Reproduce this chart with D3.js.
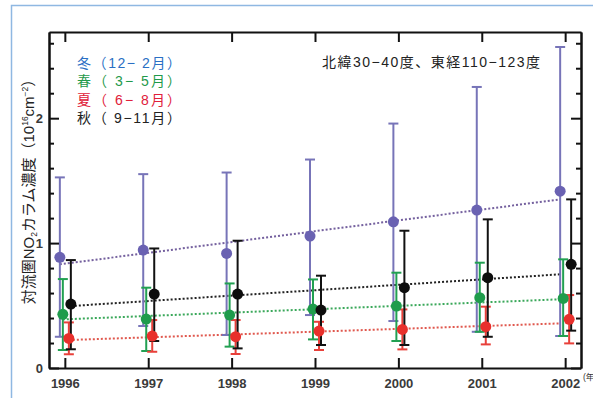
<!DOCTYPE html>
<html>
<head>
<meta charset="utf-8">
<script src="https://cdn.jsdelivr.net/npm/d3@7"></script>
<style>
  body { margin: 0; background: #fff; }
  svg { display: block; font-family: "Liberation Sans", "Noto Sans CJK JP", sans-serif; }
  .axis path { stroke: #111; stroke-width: 2; }
  .axis line { stroke: #111; stroke-width: 2; }
  .axis text { font-size: 13px; font-weight: bold; fill: #3a3a3a; font-family: "Liberation Sans", sans-serif; }
</style>
</head>
<body>
<div id="vis"></div>
<script>
const FRAME_WIDTH = 593;
const FRAME_HEIGHT = 398;
const MARGINS = {left: 49, right: 12, top: 32, bottom: 30};

// data (10^16 cm^-2)
const YEARS = [1996, 1997, 1998, 1999, 2000, 2001, 2002];
const WINTER_MEAN = [0.886, 0.944, 0.917, 1.056, 1.17, 1.264, 1.416];
const WINTER_HIGH = [1.526, 1.552, 1.565, 1.669, 1.957, 2.25, 2.57];
const WINTER_LOW  = [0.25, 0.336, 0.264, 0.424, 0.376, 0.29, 0.256];
const SPRING_MEAN = [0.43, 0.392, 0.424, 0.472, 0.496, 0.563, 0.557];
const SPRING_HIGH = [0.712, 0.643, 0.677, 0.709, 0.763, 0.843, 0.87];
const SPRING_LOW  = [0.144, 0.136, 0.171, 0.229, 0.216, 0.29, 0.256];
const SUMMER_MEAN = [0.237, 0.256, 0.251, 0.296, 0.309, 0.331, 0.39];
const SUMMER_HIGH = [0.365, 0.384, 0.384, 0.37, 0.469, 0.491, 0.584];
const SUMMER_LOW  = [0.11, 0.13, 0.112, 0.144, 0.149, 0.189, 0.197];
const AUTUMN_MEAN = [0.512, 0.592, 0.592, 0.464, 0.643, 0.723, 0.83];
const AUTUMN_HIGH = [0.864, 0.957, 1.019, 0.739, 1.099, 1.19, 1.35];
const AUTUMN_LOW  = [0.15, 0.216, 0.157, 0.184, 0.184, 0.25, 0.299];

const TREND_YEARS = [1996, 2002];
const WINTER_TREND = [0.83, 1.35];
const SPRING_TREND = [0.389, 0.55];
const SUMMER_TREND = [0.224, 0.357];
const AUTUMN_TREND = [0.496, 0.75];

const Y_MAJOR = [0, 1, 2];
const Y_MINOR = [0.2, 0.4, 0.6, 0.8, 1.2, 1.4, 1.6, 1.8, 2.2, 2.4, 2.6];

const LEGEND_LABELS = ["冬（12− 2月）", "春（ 3− 5月）", "夏（ 6− 8月）", "秋（ 9−11月）"];
const REGION_LABEL = "北緯30−40度、東経110−123度";

const SERIES = [
  {mean: WINTER_MEAN, high: WINTER_HIGH, low: WINTER_LOW, trend: WINTER_TREND,
   color: "#6a62b2", bar: "#7774b8", line: "#74609e", text: "#2a6fc4", dx: -5},
  {mean: SPRING_MEAN, high: SPRING_HIGH, low: SPRING_LOW, trend: SPRING_TREND,
   color: "#1f9c4c", bar: "#22a052", line: "#3aa85a", text: "#1f9a4a", dx: -2},
  {mean: SUMMER_MEAN, high: SUMMER_HIGH, low: SUMMER_LOW, trend: SUMMER_TREND,
   color: "#e8302c", bar: "#e8403a", line: "#e0584e", text: "#e0203a", dx: 4},
  {mean: AUTUMN_MEAN, high: AUTUMN_HIGH, low: AUTUMN_LOW, trend: AUTUMN_TREND,
   color: "#0d0d0d", bar: "#111", line: "#222", text: "#222", dx: 6}
];

const FRAME = d3.select("#vis")
                .append("svg")
                  .attr("width", FRAME_WIDTH)
                  .attr("height", FRAME_HEIGHT);

// light blue page border
FRAME.append("path")
     .attr("d", "M11.5," + FRAME_HEIGHT + "V5.5H" + FRAME_WIDTH)
     .attr("fill", "none")
     .attr("stroke", "#8fb8e2")
     .attr("stroke-width", 1.5);

const X_SCALE = d3.scaleLinear()
                  .domain([1995.81, 2002.19])
                  .range([MARGINS.left, FRAME_WIDTH - MARGINS.right]);

const Y_SCALE = d3.scaleLinear()
                  .domain([0, 2.69])
                  .range([FRAME_HEIGHT - MARGINS.bottom, MARGINS.top]);

const X0 = MARGINS.left, X1 = FRAME_WIDTH - MARGINS.right;
const Y0 = FRAME_HEIGHT - MARGINS.bottom, Y1 = MARGINS.top;

// trend lines (under everything else)
SERIES.forEach((s) => {
  FRAME.append("line")
       .attr("x1", X_SCALE(TREND_YEARS[0]) + s.dx)
       .attr("x2", X_SCALE(TREND_YEARS[1]) - 5)
       .attr("y1", Y_SCALE(s.trend[0]))
       .attr("y2", Y_SCALE(s.trend[1]))
       .attr("stroke", s.line)
       .attr("stroke-width", 2)
       .attr("stroke-dasharray", "2,2");
});

// error bars
SERIES.forEach((s) => {
  const g = FRAME.append("g")
                 .attr("stroke", s.bar)
                 .attr("stroke-width", 2);
  YEARS.forEach((yr, i) => {
    const cx = X_SCALE(yr) + s.dx;
    g.append("line")
     .attr("x1", cx).attr("x2", cx)
     .attr("y1", Y_SCALE(s.high[i])).attr("y2", Y_SCALE(s.low[i]));
    [s.high[i], s.low[i]].forEach((v) => {
      g.append("line")
       .attr("x1", cx - 5).attr("x2", cx + 5)
       .attr("y1", Y_SCALE(v)).attr("y2", Y_SCALE(v));
    });
  });
});

// points
[0, 1, 3, 2].forEach((k) => {
  const s = SERIES[k];
  FRAME.selectAll(".pt" + k)
       .data(YEARS)
       .enter()
       .append("circle")
         .attr("cx", (d) => X_SCALE(d) + s.dx)
         .attr("cy", (d, i) => Y_SCALE(s.mean[i]))
         .attr("r", 5.5)
         .attr("fill", s.color);
});

// frame and ticks
FRAME.append("g")
     .attr("class", "axis")
     .attr("transform", "translate(" + X0 + ",0)")
     .call(d3.axisLeft(Y_SCALE).tickValues(Y_MAJOR).tickSize(-10).tickSizeOuter(0).tickPadding(6).tickFormat(d3.format("d")));
FRAME.append("g")
     .attr("class", "axis")
     .attr("transform", "translate(" + X0 + ",0)")
     .call(d3.axisLeft(Y_SCALE).tickValues(Y_MINOR).tickSize(-5).tickSizeOuter(0).tickFormat(""));
FRAME.append("g")
     .attr("class", "axis")
     .attr("transform", "translate(" + X1 + ",0)")
     .call(d3.axisRight(Y_SCALE).tickValues(Y_MAJOR).tickSize(-10).tickSizeOuter(0).tickFormat(""));
FRAME.append("g")
     .attr("class", "axis")
     .attr("transform", "translate(" + X1 + ",0)")
     .call(d3.axisRight(Y_SCALE).tickValues(Y_MINOR).tickSize(-5).tickSizeOuter(0).tickFormat(""));
FRAME.append("g")
     .attr("class", "axis")
     .attr("transform", "translate(0," + Y0 + ")")
     .call(d3.axisBottom(X_SCALE).tickValues(YEARS).tickSize(-10).tickSizeOuter(0).tickPadding(11).tickFormat(d3.format("d")));
FRAME.append("g")
     .attr("class", "axis")
     .attr("transform", "translate(0," + Y1 + ")")
     .call(d3.axisTop(X_SCALE).tickValues(YEARS).tickSize(-10).tickSizeOuter(0).tickFormat(""));

// unit of x axis
FRAME.append("text")
     .attr("x", X1 + 2)
     .attr("y", Y0 + 12)
     .attr("font-size", 8.5)
     .attr("fill", "#333")
     .text("(年");

// y axis title
const title = FRAME.append("text")
                   .attr("transform", "translate(34,188) rotate(-90)")
                   .attr("text-anchor", "middle")
                   .attr("font-size", 15)
                   .attr("fill", "#222");
title.append("tspan").text("対流圏NO");
title.append("tspan").attr("font-size", 8.5).attr("dy", 3).text("2");
title.append("tspan").attr("dy", -3).text("カラム濃度（10");
title.append("tspan").attr("font-size", 8.5).attr("dy", -6).text("16");
title.append("tspan").attr("dy", 6).text("cm");
title.append("tspan").attr("font-size", 8.5).attr("dy", -6).text("−2");
title.append("tspan").attr("dy", 6).text("）");

// legend
FRAME.selectAll(".legend")
     .data(LEGEND_LABELS)
     .enter()
     .append("text")
       .attr("x", 77)
       .attr("y", (d, i) => 68 + i * 18.3)
       .attr("font-size", 14)
       .attr("textLength", 104)
       .attr("lengthAdjust", "spacing")
       .attr("fill", (d, i) => SERIES[i].text)
       .text((d) => d);

FRAME.append("text")
     .attr("x", 322)
     .attr("y", 67)
     .attr("font-size", 14)
     .attr("textLength", 218)
     .attr("lengthAdjust", "spacing")
     .attr("fill", "#222")
     .text(REGION_LABEL);
</script>
</body>
</html>
